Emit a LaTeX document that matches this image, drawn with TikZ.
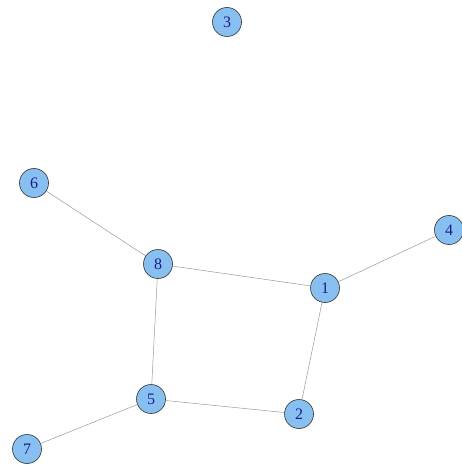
\documentclass[tikz,border=0pt]{standalone}
\usepackage{fontspec}
\setmainfont{Liberation Serif}
\definecolor{vfill}{HTML}{87C0F0}
\definecolor{vlab}{HTML}{1C1C8C}
\definecolor{edgec}{HTML}{9A9A9A}
\begin{document}
\begin{tikzpicture}[x=1pt,y=-1pt,
  vert/.style={circle,draw=black!80,line width=0.6pt,fill=vfill,minimum size=29pt,inner sep=0pt,text=vlab,font=\fontsize{16}{16}\selectfont},
  edge/.style={draw=edgec,line width=0.5pt}]
\fill[white] (0,0) rectangle (462,465);
\useasboundingbox (0,0) rectangle (462,465);
\node[vert] (n3) at (227,22) {3};
\node[vert] (n6) at (34,183) {6};
\node[vert] (n8) at (158,264) {8};
\node[vert] (n1) at (325,288) {1};
\node[vert] (n4) at (449,230) {4};
\node[vert] (n5) at (151,399) {5};
\node[vert] (n2) at (299,414) {2};
\node[vert] (n7) at (27,449) {7};
\path[edge] (n6) -- (n8);
\path[edge] (n8) -- (n1);
\path[edge] (n1) -- (n4);
\path[edge] (n8) -- (n5);
\path[edge] (n1) -- (n2);
\path[edge] (n5) -- (n2);
\path[edge] (n7) -- (n5);
\end{tikzpicture}
\end{document}
